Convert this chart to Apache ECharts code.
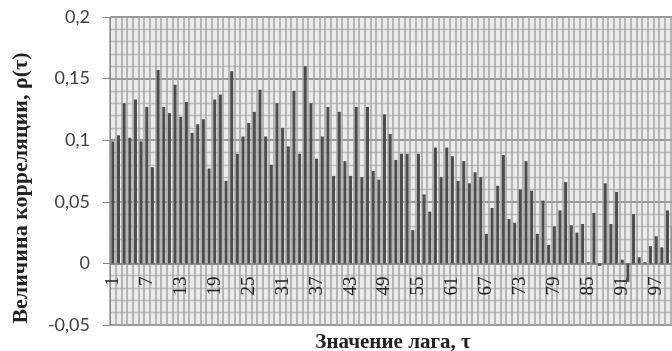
<!DOCTYPE html>
<html>
<head>
<meta charset="utf-8">
<script src="https://cdn.jsdelivr.net/npm/echarts@6/dist/echarts.min.js"></script>
<style>
  html, body { margin: 0; padding: 0; background: #fff; }
  #chart { width: 672px; height: 351px; }
</style>
</head>
<body>
<div id="chart"></div>
<script>
// lag values 1..100
const lags = [];
for (let i = 1; i <= 100; i++) lags.push(String(i));

// correlation per lag
const rho = [
  0.099, 0.104, 0.130, 0.102, 0.133, 0.099, 0.127, 0.078, 0.157, 0.127,
  0.122, 0.145, 0.119, 0.131, 0.106, 0.113, 0.117, 0.077, 0.133, 0.137,
  0.067, 0.156, 0.089, 0.103, 0.114, 0.123, 0.141, 0.103, 0.080, 0.130,
  0.110, 0.095, 0.140, 0.089, 0.160, 0.130, 0.085, 0.103, 0.127, 0.071,
  0.123, 0.083, 0.071, 0.127, 0.070, 0.127, 0.075, 0.068, 0.121, 0.105,
  0.084, 0.089, 0.089, 0.027, 0.089, 0.056, 0.042, 0.094, 0.070, 0.094,
  0.087, 0.067, 0.083, 0.065, 0.074, 0.070, 0.024, 0.045, 0.063, 0.088,
  0.036, 0.033, 0.060, 0.083, 0.059, 0.024, 0.051, 0.015, 0.030, 0.043,
  0.066, 0.031, 0.025, 0.032, 0.001, 0.041, -0.002, 0.065, 0.032, 0.058,
  0.003, -0.015, 0.040, 0.005, 0.001, 0.014, 0.022, 0.013, 0.043, 0.030
];

const yMin = -0.05, yMax = 0.2, yStep = 0.05;
const yTitle = "Величина корреляции, ρ(τ)";
const xTitle = "Значение лага, τ";

// grid box; the category axis is moved up to the zero line
const gridTop = 17, gridBottom = 26, H = 351;
const plotH = H - gridTop - gridBottom;
const zeroShift = -plotH * (0 - yMin) / (yMax - yMin);

let chart = echarts.init(document.getElementById("chart"));
let option = {
  animation: false,
  grid: {
    left: 110,
    top: gridTop,
    width: 566,
    bottom: gridBottom,
    outerBoundsMode: "none",
    show: true,
    backgroundColor: "#ebebeb",
    borderColor: "#a0a0a0",
    borderWidth: 1
  },
  // y title sits a bit below the middle of the axis, as in the source
  graphic: [
    {
      type: "text",
      x: 21,
      y: 188,
      rotation: Math.PI / 2,
      style: {
        text: yTitle,
        font: "bold 22px 'Liberation Serif'",
        fill: "#222",
        align: "center",
        verticalAlign: "middle"
      }
    }
  ],
  xAxis: {
    type: "category",
    data: lags,
    offset: zeroShift,
    name: xTitle,
    nameLocation: "middle",
    nameGap: 69,
    nameTextStyle: {
      fontFamily: "Liberation Serif",
      fontWeight: "bold",
      fontSize: 21,
      color: "#222"
    },
    axisLine: { onZero: false, lineStyle: { color: "#888", width: 1.5 } },
    axisTick: { show: false },
    axisLabel: {
      interval: 5,
      rotate: 90,
      margin: 13,
      fontFamily: "Liberation Serif",
      fontSize: 19,
      color: "#222"
    },
    splitLine: {
      show: true,
      interval: 0,
      lineStyle: { color: "#a8a8a8", width: 1.6 }
    }
  },
  yAxis: {
    type: "value",
    min: yMin,
    max: yMax,
    interval: yStep,
    axisLine: { show: true, lineStyle: { color: "#888", width: 1 } },
    axisTick: { show: true, length: 7, lineStyle: { color: "#888" } },
    axisLabel: {
      margin: 20,
      fontFamily: "Lato",
      fontSize: 18,
      color: "#404040",
      formatter: function (v) {
        return String(Math.round(v * 100) / 100).replace(".", ",");
      }
    },
    splitLine: { lineStyle: { color: "#999", width: 1.8 } },
    minorTick: { show: false, splitNumber: 5 },
    minorSplitLine: { show: true, lineStyle: { color: "#bcbcbc", width: 1.4 } }
  },
  series: [
    {
      type: "bar",
      data: rho,
      barWidth: 3,
      itemStyle: { color: "#4d4d4d" }
    }
  ]
};
chart.setOption(option);
</script>
</body>
</html>
